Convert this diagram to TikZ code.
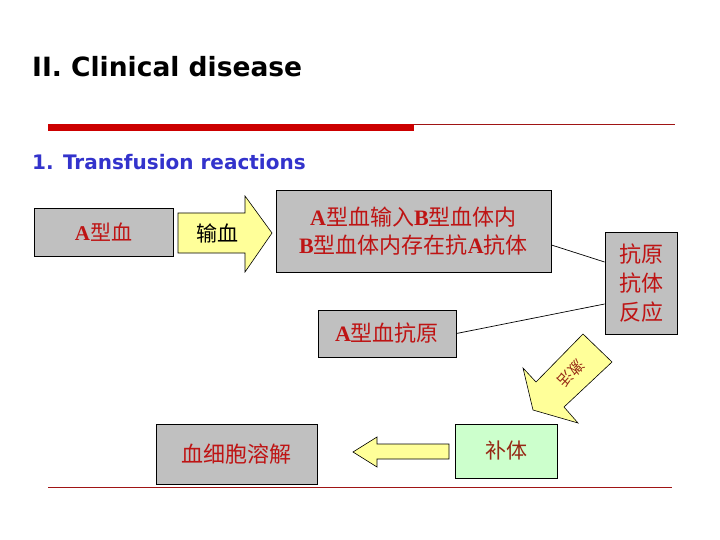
\documentclass[tikz,border=0pt]{standalone}
\usepackage{fontspec}
\setmainfont{Liberation Serif}
\newfontfamily\cjk{Noto Sans CJK SC}
\newfontfamily\ttlfont{DejaVu Sans}
\newfontfamily\lat{Liberation Serif}
\definecolor{boxgray}{RGB}{192,192,192}
\definecolor{txtred}{RGB}{190,20,20}
\definecolor{txtbrown}{RGB}{150,40,20}
\definecolor{arrowyellow}{RGB}{255,255,153}
\definecolor{boxgreen}{RGB}{204,255,204}
\definecolor{barred}{RGB}{204,0,0}
\definecolor{linered}{RGB}{160,20,20}
\definecolor{titleblue}{RGB}{51,51,204}
\newcommand\LA[1]{{\lat\bfseries #1}}
\tikzset{
  graybox/.style={draw=black, line width=0.9pt, fill=boxgray, inner sep=0pt, text=txtred, font=\cjk\fontsize{21}{28}\selectfont, align=center},
  greenbox/.style={draw=black, line width=0.9pt, fill=boxgreen, inner sep=0pt, text=txtbrown, font=\cjk\fontsize{21}{28}\selectfont},
  yarrow/.style={draw=black, line width=0.6pt, fill=arrowyellow},
  conn/.style={draw=black, line width=0.7pt},
  arrtext/.style={inner sep=0pt, font=\cjk\fontsize{21}{28}\selectfont}
}
\begin{document}
\begin{tikzpicture}[x=1pt,y=-1pt]
\useasboundingbox (0,0) rectangle (720,540);
\fill[white] (0,0) rectangle (720,540);
% title
\node[anchor=base west, inner sep=0pt, font=\ttlfont\bfseries\fontsize{26.5}{30}\selectfont] (title) at (32,77) {II. Clinical disease};
\draw[linered, line width=0.8pt] (48,124) -- (675,124);
\fill[barred] (48,124) rectangle (414,131);
\node[anchor=base west, inner sep=0pt, text=titleblue, font=\ttlfont\bfseries\fontsize{20}{24}\selectfont] (sub) at (32,170) {1. Transfusion reactions};
% boxes
\node[graybox, minimum width=139pt, minimum height=48pt] (a) at (103.5,232) {\LA{A}型血};
\node[graybox, minimum width=275pt, minimum height=82pt, font=\cjk\fontsize{22}{28}\selectfont] (main) at (413.5,231) {\LA{A}型血输入\LA{B}型血体内\\\LA{B}型血体内存在抗\LA{A}抗体};
\node[graybox, minimum width=72pt, minimum height=102pt, font=\cjk\fontsize{22}{29}\selectfont] (ag) at (641,283) {抗原\\抗体\\反应};
\node[graybox, minimum width=138pt, minimum height=47pt, font=\cjk\fontsize{22}{28}\selectfont] (aa) at (387,333.5) {\LA{A}型血抗原};
\node[greenbox, minimum width=102pt, minimum height=54pt] (c) at (506,451) {补体};
\node[graybox, minimum width=161pt, minimum height=60pt, font=\cjk\fontsize{22}{28}\selectfont] (lys) at (236.5,454) {血细胞溶解};
% connectors
\draw[conn] ([yshift=-14pt]main.east) -- ([yshift=21pt]ag.west);
\draw[conn] (aa.east) -- ([yshift=-21pt]ag.west);
% arrow 1
\draw[yarrow] (178,213) -- (245,213) -- (245,196) -- (272,233) -- (245,272) -- (245,253) -- (178,253) -- cycle;
\node[arrtext, text=black] (t1) at (217,233) {输血};
% diagonal arrow
\draw[yarrow] (583,334) -- (612,362) -- (564,407) -- (578,423) -- (533,410) -- (523,368) -- (536,382) -- cycle;
\node[arrtext, text=txtbrown, rotate=-133, font=\cjk\fontsize{15}{18}\selectfont] (t2) at (571,373) {激活};
% arrow left
\draw[yarrow] (449,444) -- (377,444) -- (377,437) -- (353,452) -- (377,467) -- (377,459) -- (449,459) -- cycle;
% bottom line
\draw[linered, line width=0.8pt] (48,487) -- (672,487);
\end{tikzpicture}
\end{document}
